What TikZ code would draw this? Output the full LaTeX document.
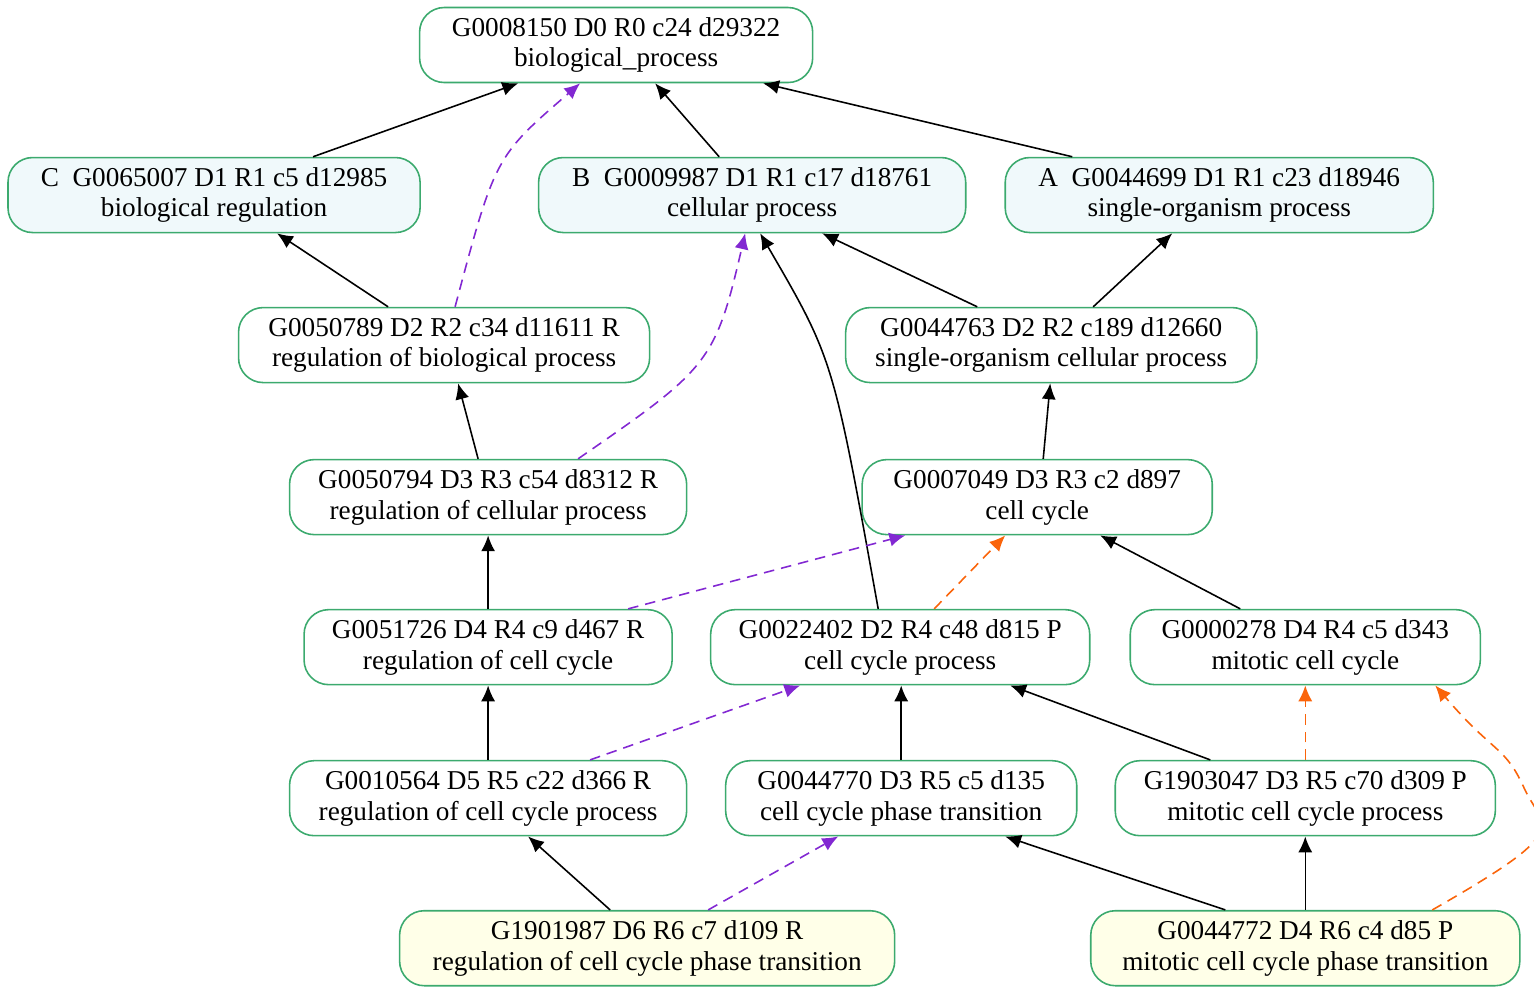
\documentclass[tikz,border=0pt]{standalone}
\usepackage{fontspec}
\setmainfont{Liberation Serif}
\usetikzlibrary{arrows.meta}
\definecolor{gobox}{RGB}{60,170,110}
\definecolor{topfill}{RGB}{240,249,251}
\definecolor{leaffill}{RGB}{255,255,232}
\definecolor{rpurple}{RGB}{130,40,210}
\definecolor{rorange}{RGB}{250,100,10}
\tikzset{
  term/.style={draw=gobox,line width=0.9pt,rounded corners=14pt,minimum height=1.5cm,
    align=center,font=\fontsize{15.5}{17.5}\selectfont,inner sep=0pt},
  isa/.style={-{Latex[length=9pt,width=8pt]},line width=0.9pt},
  reg/.style={isa,rpurple,dash pattern=on 6pt off 4pt},
  part/.style={isa,rorange,dash pattern=on 6pt off 4pt}
}
\def\T#1#2#3#4#5{\node[term,minimum width=#4*0.02cm,#5] (#1) at (#2*0.02,-#3*0.02)}
\begin{document}
\begin{tikzpicture}
\useasboundingbox (0,0) rectangle (30.68,-19.88);
\T{bp}{616}{45}{393}{}{G0008150 D0 R0 c24 d29322\\biological\_process};
\T{breg}{214}{195}{412}{fill=topfill}{C\enspace G0065007 D1 R1 c5 d12985\\biological regulation};
\T{cp}{752}{195}{427}{fill=topfill}{B\enspace G0009987 D1 R1 c17 d18761\\cellular process};
\T{sop}{1219}{195}{428}{fill=topfill}{A\enspace G0044699 D1 R1 c23 d18946\\single-organism process};
\T{rbp}{444}{345}{411}{}{G0050789 D2 R2 c34 d11611 R\\regulation of biological process};
\T{socp}{1051}{345}{411}{}{G0044763 D2 R2 c189 d12660\\single-organism cellular process};
\T{rcp}{488}{497}{397}{}{G0050794 D3 R3 c54 d8312 R\\regulation of cellular process};
\T{cc}{1037}{497}{350}{}{G0007049 D3 R3 c2 d897\\cell cycle};
\T{rcc}{488}{647}{368}{}{G0051726 D4 R4 c9 d467 R\\regulation of cell cycle};
\T{ccp}{900}{647}{379}{}{G0022402 D2 R4 c48 d815 P\\cell cycle process};
\T{mcc}{1305}{647}{350}{}{G0000278 D4 R4 c5 d343\\mitotic cell cycle};
\T{rccp}{488}{798}{397}{}{G0010564 D5 R5 c22 d366 R\\regulation of cell cycle process};
\T{ccpt}{901}{798}{351}{}{G0044770 D3 R5 c5 d135\\cell cycle phase transition};
\T{mccp}{1305}{798}{380}{}{G1903047 D3 R5 c70 d309 P\\mitotic cell cycle process};
\T{rccpt}{647}{948}{495}{fill=leaffill}{G1901987 D6 R6 c7 d109 R\\regulation of cell cycle phase transition};
\T{mccpt}{1305}{948}{429}{fill=leaffill}{G0044772 D4 R6 c4 d85 P\\mitotic cell cycle phase transition};
% is_a
\draw[isa] ([xshift=1.98cm]breg.north) -- ([xshift=-1.96cm]bp.south);
\draw[isa] ([xshift=-0.66cm]cp.north) -- ([xshift=0.78cm]bp.south);
\draw[isa] ([xshift=-2.94cm]sop.north) -- ([xshift=2.94cm]bp.south);
\draw[isa] ([xshift=-1.12cm]rbp.north) -- ([xshift=1.26cm]breg.south);
\draw[isa] ([xshift=-1.48cm]socp.north) -- ([xshift=1.4cm]cp.south);
\draw[isa] ([xshift=0.84cm]socp.north) -- ([xshift=-0.94cm]sop.south);
\draw[isa] ([xshift=-0.2cm]rcp.north) -- ([xshift=0.28cm]rbp.south);
\draw[isa] ([xshift=0.12cm]cc.north) -- ([xshift=-0.02cm]socp.south);
\draw[isa] (rcc.north) -- (rcp.south);
\draw[isa] ([xshift=-0.44cm]ccp.north) .. controls +(-0.9,5) .. ([xshift=0.16cm]cp.south);
\draw[isa] ([xshift=-1.3cm]mcc.north) -- ([xshift=1.26cm]cc.south);
\draw[isa] (rccp.north) -- (rcc.south);
\draw[isa] (ccpt.north) -- ([xshift=0.02cm]ccp.south);
\draw[isa] ([xshift=-1.9cm]mccp.north) -- ([xshift=2.2cm]ccp.south);
\draw[isa] ([xshift=-0.74cm]rccpt.north) -- ([xshift=0.8cm]rccp.south);
\draw[isa] ([xshift=-1.6cm]mccpt.north) -- ([xshift=2.08cm]ccpt.south);
\draw[isa] (mccpt.north) -- (mccp.south);
% regulates
\draw[reg] ([xshift=0.22cm]rbp.north) .. controls +(0.8,3) .. ([xshift=-0.72cm]bp.south);
\draw[reg] ([xshift=1.8cm]rcp.north) .. controls +(2.6,1.8) and +(-0.6,-2.6) .. ([xshift=-0.14cm]cp.south);
\draw[reg] ([xshift=2.8cm]rcc.north) -- ([xshift=-2.64cm]cc.south);
\draw[reg] ([xshift=2.04cm]rccp.north) -- ([xshift=-2cm]ccp.south);
\draw[reg] ([xshift=1.22cm]rccpt.north) -- ([xshift=-1.26cm]ccpt.south);
% part_of
\draw[part] ([xshift=0.68cm]ccp.north) -- ([xshift=-0.64cm]cc.south);
\draw[part] (mccp.north) -- (mcc.south);
\draw[part] ([xshift=2.54cm]mccpt.north) .. controls +(2.8,1.6) and +(0.4,-0.8) .. (30.5,-15.8)
  .. controls +(-0.4,0.9) and +(1.2,-1.4) .. ([xshift=2.6cm]mcc.south);
\end{tikzpicture}
\end{document}
